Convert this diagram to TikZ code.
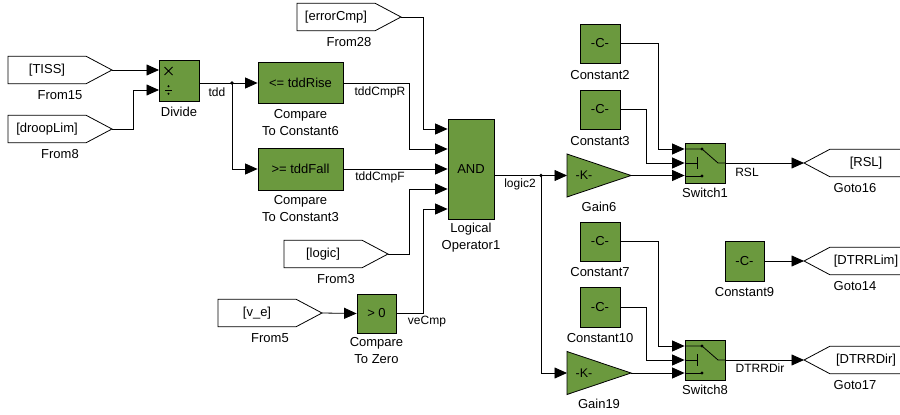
\documentclass[tikz,border=0pt]{standalone}
\usepackage{fontspec}
\setmainfont{Liberation Sans}
\usetikzlibrary{arrows.meta,calc}
\definecolor{blkgreen}{RGB}{107,153,62}
\newcommand\mkfrom[5]{%
  \draw[tag] (#2,#3-13.8) -- (#2+78,#3-13.8) -- (#2+104,#3) -- (#2+78,#3+13.8) -- (#2,#3+13.8) -- cycle;
  \node[tagtxt] (#1txt) at (#2+39,#3) {#4};
  \coordinate (#1) at (#2+104,#3);
  \node[lbl] (#1lbl) at (#2+52,#3+25.5) {#5};}
\newcommand\mkgoto[4]{%
  \draw[tag] (905,#2-13.8) -- (830,#2-13.8) -- (804,#2) -- (830,#2+13.8) -- (905,#2+13.8);
  \node[tagtxt] (#1txt) at (866,#2) {#3};
  \coordinate (#1) at (804,#2);
  \node[lbl] (#1lbl) at (855,#2+25) {#4};}
\newcommand\mkswitch[2]{%
  \node[blk, minimum width=40pt, minimum height=40pt] (#1) at (705,#2) {};
  \draw[wire] (685,#2-14) -- (702,#2-14) -- (718,#2) -- (725,#2);
  \draw[wire] (685,#2) -- (697,#2) (697,#2-6) -- (697,#2+6);
  \draw[wire] (685,#2+13) -- (702,#2+13);
  \fill (702,#2-14) circle (1.7) (702,#2+13) circle (1.7);}
\newcommand\mkgain[3]{%
  \draw[blk] (567,#2-21.5) -- (631,#2) -- (567,#2+21.5) -- cycle;
  \node[font=\fontsize{12.5}{14}\selectfont, inner sep=0pt] (#1) at (584,#2) {-K-};
  \coordinate (#1in) at (567,#2);
  \coordinate (#1out) at (631,#2);
  \node[lbl] (#1lbl) at (599,#2+31) {#3};}
\begin{document}
\begin{tikzpicture}[x=1pt,y=-1pt,
 blk/.style={draw=black, fill=blkgreen, line width=0.8pt, inner sep=0pt, font=\fontsize{13}{15}\selectfont},
 sig/.style={line width=0.8pt, -{Triangle[length=12.5pt,width=11pt]}},
 wire/.style={line width=0.8pt},
 lbl/.style={font=\fontsize{13}{17}\selectfont, align=center, inner sep=0pt},
 slbl/.style={font=\fontsize{12}{14}\selectfont, inner sep=0pt},
 tag/.style={draw=black, fill=white, line width=0.8pt},
 tagtxt/.style={font=\fontsize{13}{15}\selectfont, inner sep=0pt},
 jdot/.style={circle, fill=black, inner sep=0pt, minimum size=3.8pt}]
\useasboundingbox (0,0) rectangle (900,415);

% ---------- From blocks ----------
\mkfrom{f15}{8}{70}{[TISS]}{From15}
\mkfrom{f8}{8}{129}{[droopLim]}{From8}
\mkfrom{f28}{297}{17}{[errorCmp]}{From28}
\mkfrom{f3}{284}{254}{[logic]}{From3}
\mkfrom{f5}{218}{313}{[v\_e]}{From5}

% ---------- Blocks ----------
\node[blk, minimum width=40pt, minimum height=41pt] (divide) at (179,80.5) {};
\coordinate (divin1) at (159,70);
\coordinate (divin2) at (159,90);
\draw[wire] (164.5,67) -- (172.5,75) (164.5,75) -- (172.5,67);
\draw[wire] (165,90) -- (172,90);
\fill (168.5,86.3) circle (1.1) (168.5,93.7) circle (1.1);
\node[lbl] (dividelbl) at (179,111.5) {Divide};

\node[blk, minimum width=85pt, minimum height=41pt] (cmp6) at (300.5,83) {<= tddRise};
\node[lbl, anchor=north] (cmp6lbl) at (300.5,109) {Compare\\To Constant6};
\node[blk, minimum width=85pt, minimum height=42pt] (cmp3) at (300.5,169) {>= tddFall};
\node[lbl, anchor=north] (cmp3lbl) at (300.5,195) {Compare\\To Constant3};

\node[blk, minimum width=46pt, minimum height=100pt] (and) at (471,169) {AND};
\node[lbl, anchor=north] (andlbl) at (471,223) {Logical\\Operator1};

\node[blk, minimum width=39pt, minimum height=39pt] (cz) at (376.5,313.5) {> 0};
\node[lbl, anchor=north] (czlbl) at (376.5,337) {Compare\\To Zero};

\node[blk, minimum width=40pt, minimum height=39pt] (c2) at (600,43.5) {-C-};
\node[lbl] (c2lbl) at (600,75) {Constant2};
\node[blk, minimum width=40pt, minimum height=39pt] (c3) at (600,109.5) {-C-};
\node[lbl] (c3lbl) at (600,141) {Constant3};
\node[blk, minimum width=40pt, minimum height=39pt] (c7) at (600,241.5) {-C-};
\node[lbl] (c7lbl) at (600,272.5) {Constant7};
\node[blk, minimum width=40pt, minimum height=40pt] (c10) at (600,307) {-C-};
\node[lbl] (c10lbl) at (600,338) {Constant10};
\node[blk, minimum width=39pt, minimum height=40pt] (c9) at (744.5,261) {-C-};
\node[lbl] (c9lbl) at (744.5,292) {Constant9};

\mkgain{g6}{175.5}{Gain6}
\mkgain{g19}{373}{Gain19}

\mkswitch{sw1}{163}
\node[lbl] (sw1lbl) at (705,193) {Switch1};
\mkswitch{sw8}{360}
\node[lbl] (sw8lbl) at (705,390) {Switch8};

\mkgoto{g16}{163}{[RSL]}{Goto16}
\mkgoto{g14}{261}{[DTRRLim]}{Goto14}
\mkgoto{g17}{360}{[DTRRDir]}{Goto17}

% ---------- Connectors ----------
\draw[sig] (f15) -- (divin1);
\draw[sig] (f8) -| (133,90) -- (divin2);
\coordinate (tddj) at (232,83);
\draw[sig] (divide.east |- cmp6) -- (cmp6.west);
\node[jdot] (tdddot) at (tddj) {};
\draw[sig] (tddj) |- (cmp3.west);
\node[slbl] (tddlbl) at (217,92) {tdd};

\draw[sig] (f28) -| (423,129) -- (and.west |- 0,129);
\draw[sig] (cmp6.east) -| (409,149) -- (and.west |- 0,149);
\node[slbl] (cmprlbl) at (380,92) {tddCmpR};
\draw[sig] (cmp3.east) -- (and.west);
\node[slbl] (cmpflbl) at (380,177.5) {tddCmpF};
\draw[sig] (f3) -| (409,189) -- (and.west |- 0,189);
\draw[sig] (f5) -- (cz.west);
\draw[sig] (cz.east) -| (423,209) -- (and.west |- 0,209);
\node[slbl] (vecmplbl) at (427,322) {veCmp};

\coordinate (lj) at (541,175.5);
\draw[sig] (and.east |- lj) -- (g6in);
\node[jdot] (ljdot) at (lj) {};
\draw[sig] (lj) |- (g19in);
\node[slbl] (logic2lbl) at (520,184) {logic2};

\draw[sig] (c2.east) -| (658,149) -- (sw1.west |- 0,149);
\draw[sig] (c3.east) -| (646,163) -- (sw1.west);
\draw[sig] (g6out) -- (sw1.west |- g6out);
\draw[sig] (sw1.east) -- (g16);
\node[slbl] (rsllbl) at (747,172) {RSL};

\draw[sig] (c7.east) -| (658,346) -- (sw8.west |- 0,346);
\draw[sig] (c10.east) -| (646,360) -- (sw8.west);
\draw[sig] (g19out) -- (sw8.west |- g19out);
\draw[sig] (sw8.east) -- (g17);
\node[slbl] (dtrrlbl) at (760,368.5) {DTRRDir};

\draw[sig] (c9.east) -- (g14);
\end{tikzpicture}
\end{document}
